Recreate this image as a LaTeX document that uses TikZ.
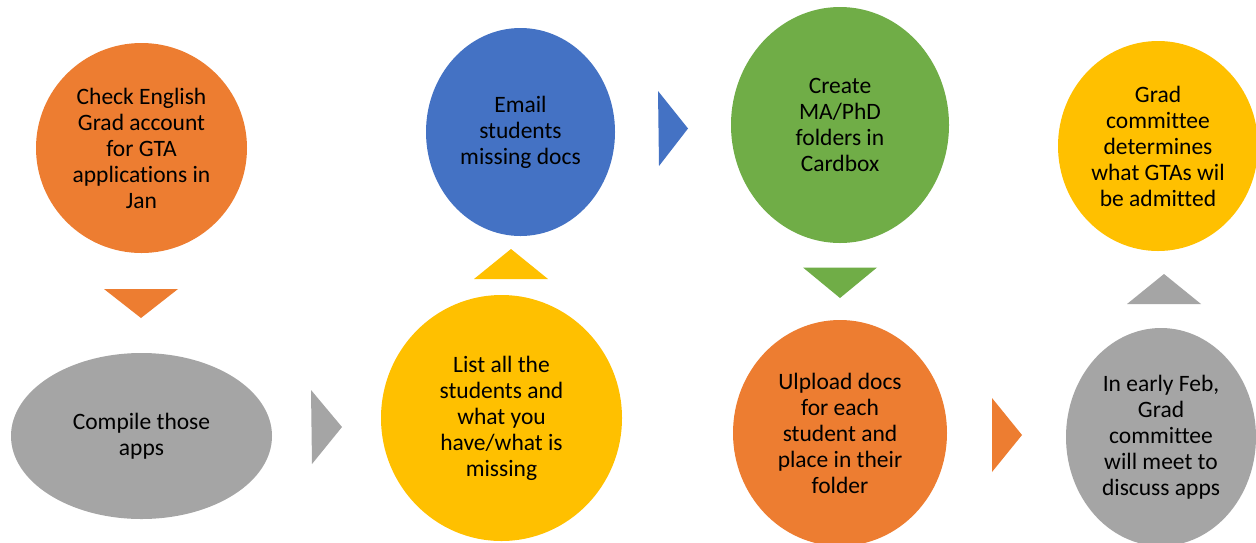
\documentclass[tikz,border=0pt]{standalone}
\usepackage{fontspec}
\setmainfont{Carlito}[Ligatures={NoCommon}]
\usetikzlibrary{shapes.geometric}
\definecolor{cOrange}{HTML}{ED7D31}
\definecolor{cGray}{HTML}{A5A5A5}
\definecolor{cYellow}{HTML}{FFC000}
\definecolor{cBlue}{HTML}{4472C4}
\definecolor{cGreen}{HTML}{70AD47}
\tikzset{
  stepshape/.style={ellipse, inner sep=0pt, outer sep=0pt, align=center, text=black,
    font=\fontsize{23.5}{26}\selectfont}
}
\begin{document}
\begin{tikzpicture}[x=1pt,y=-1pt]
\useasboundingbox (0,0) rectangle (1256,542);
\clip (0,0) rectangle (1256,542);
\fill[white] (0,0) rectangle (1256,542);
% step shapes
\node[stepshape, fill=cOrange, minimum width=211pt, minimum height=210pt] (s1) at (141.5,148) {Check English\\Grad account\\for GTA\\applications in\\Jan};
\node[stepshape, fill=cGray, minimum width=261pt, minimum height=166pt] (s2) at (141.5,436) {Compile those\\apps};
\node[stepshape, fill=cYellow, minimum width=241pt, minimum height=246pt] (s3) at (501.5,418) {List all the\\students and\\what you\\have/what is\\missing};
\node[stepshape, fill=cBlue, minimum width=189pt, minimum height=208pt] (s4) at (520.5,132) {Email\\students\\missing docs};
\node[stepshape, fill=cGreen, minimum width=218pt, minimum height=236pt] (s5) at (840,125) {Create\\MA/PhD\\folders in\\Cardbox};
\node[stepshape, fill=cOrange, minimum width=214pt, minimum height=226pt] (s6) at (840,433) {Ulpload docs\\for each\\student and\\place in their\\folder};
\node[stepshape, fill=cGray, minimum width=190pt, minimum height=218pt] (s7) at (1161,437) {In early Feb,\\Grad\\committee\\will meet to\\discuss apps};
\node[stepshape, fill=cYellow, minimum width=200pt, minimum height=210pt] (s8) at (1158,146) {Grad\\committee\\determines\\what GTAs wil\\be admitted};
% chevrons between steps
\fill[cOrange] (104,289) -- (178,289) -- (141,318) -- cycle;
\fill[cGray] (311,390) -- (312,464) -- (342,427) -- cycle;
\fill[cYellow] (474,279) -- (548,279) -- (511,249) -- cycle;
\fill[cBlue] (658,91) -- (659,166) -- (688,128.5) -- cycle;
\fill[cGreen] (803,267.5) -- (877,267.5) -- (840,298) -- cycle;
\fill[cOrange] (992,398) -- (992,472) -- (1022,435) -- cycle;
\fill[cGray] (1127,304) -- (1201,304) -- (1164,274) -- cycle;
\end{tikzpicture}
\end{document}
